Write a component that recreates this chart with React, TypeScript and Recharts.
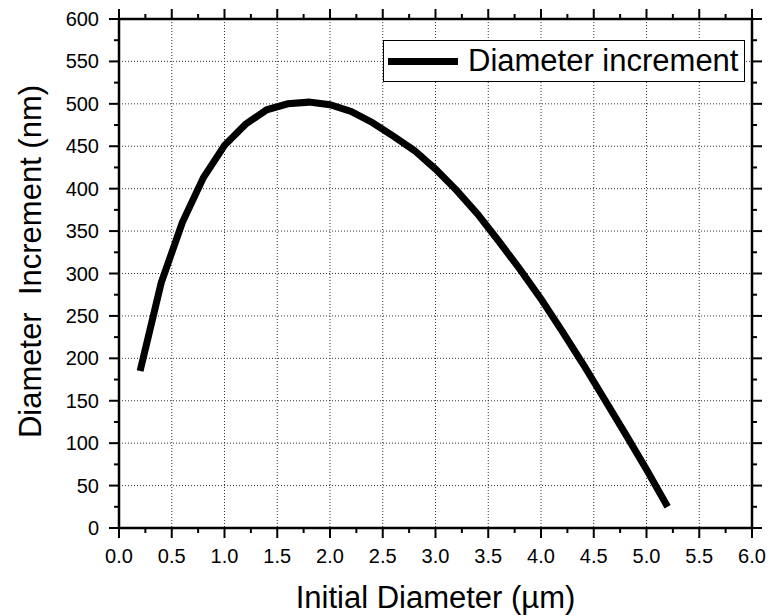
import { LineChart, Line, XAxis, YAxis, CartesianGrid, ReferenceArea } from 'recharts';

// initial diameter (µm) and the resulting diameter increment (nm)
const initialDiameter = [
  0.2, 0.4, 0.6, 0.8, 1.0, 1.2, 1.4, 1.6, 1.8, 2.0, 2.2, 2.4, 2.6,
  2.8, 3.0, 3.2, 3.4, 3.6, 3.8, 4.0, 4.2, 4.4, 4.6, 4.8, 5.0, 5.2,
];
const diameterIncrement = [
  185, 289, 360, 413, 451, 476, 493, 500, 502, 499, 491, 478, 462,
  445, 423, 398, 370, 338, 305, 270, 232, 193, 152, 111, 69, 25,
];

const xMajorTicks = [0, 0.5, 1, 1.5, 2, 2.5, 3, 3.5, 4, 4.5, 5, 5.5, 6];
const xMinorTicks = [0.25, 0.75, 1.25, 1.75, 2.25, 2.75, 3.25, 3.75, 4.25, 4.75, 5.25, 5.75];
const yMajorTicks = [0, 50, 100, 150, 200, 250, 300, 350, 400, 450, 500, 550, 600];
const yMinorTicks = [25, 75, 125, 175, 225, 275, 325, 375, 425, 475, 525, 575];

const data = initialDiameter.map((d, i) => ({ d, inc: diameterIncrement[i] }));

const WIDTH = 768;
const HEIGHT = 615;
const M = { top: 19, right: 16, left: 0, bottom: 0 };
const Y_AXIS_W = 119;
const X_AXIS_H = 87;
const PLOT_TOP = M.top;
const PLOT_RIGHT = WIDTH - M.right;

const FONT = '"Liberation Sans", Arial, Helvetica, sans-serif';

const XTick = ({ x, y, payload }: any) => {
  const major = xMajorTicks.includes(payload.value);
  const len = major ? 10 : 5;
  return (
    <g>
      <line x1={x} x2={x} y1={y} y2={y + len} stroke="#000" strokeWidth={2} />
      <line x1={x} x2={x} y1={PLOT_TOP} y2={PLOT_TOP - len} stroke="#000" strokeWidth={2} />
      {major && (
        <text x={x} y={y + 35} textAnchor="middle" fontSize={20} fontFamily={FONT} fill="#000">
          {payload.value.toFixed(1)}
        </text>
      )}
    </g>
  );
};

const YTick = ({ x, y, payload }: any) => {
  const major = yMajorTicks.includes(payload.value);
  const len = major ? 10 : 5;
  return (
    <g>
      <line x1={x} x2={x - len} y1={y} y2={y} stroke="#000" strokeWidth={2} />
      <line x1={PLOT_RIGHT} x2={PLOT_RIGHT + len} y1={y} y2={y} stroke="#000" strokeWidth={2} />
      {major && (
        <text x={x - 20} y={y + 7} textAnchor="end" fontSize={20} fontFamily={FONT} fill="#000">
          {payload.value}
        </text>
      )}
    </g>
  );
};

const XTitle = ({ viewBox }: any) => (
  <text
    x={viewBox.x + viewBox.width / 2}
    y={viewBox.y + 80}
    textAnchor="middle"
    fontSize={31}
    fontFamily={FONT}
    fill="#000"
  >
    Initial Diameter (µm)
  </text>
);

const YTitle = ({ viewBox }: any) => {
  const cx = viewBox.x + 41;
  const cy = viewBox.y + viewBox.height / 2 - 12;
  return (
    <text
      x={cx}
      y={cy}
      transform={`rotate(-90 ${cx} ${cy})`}
      textAnchor="middle"
      fontSize={31}
      fontFamily={FONT}
      fill="#000"
      style={{ whiteSpace: 'pre' }}
    >
      {'Diameter\u00a0\u00a0Increment (nm)'}
    </text>
  );
};

export default function App() {
  return (
    <div style={{ position: 'absolute', left: 0, top: 0, width: WIDTH, height: HEIGHT, background: '#fff' }}>
      <LineChart width={WIDTH} height={HEIGHT} data={data} margin={M}>
        <CartesianGrid
          stroke="#333"
          strokeWidth={1}
          strokeDasharray="1 2"
          verticalValues={xMajorTicks}
          horizontalValues={yMajorTicks}
        />
        <XAxis
          dataKey="d"
          type="number"
          domain={[0, 6]}
          ticks={[...xMajorTicks, ...xMinorTicks].sort((a, b) => a - b)}
          interval={0}
          height={X_AXIS_H}
          axisLine={false}
          tickLine={false}
          tickSize={0}
          tickMargin={0}
          tick={<XTick />}
          label={<XTitle />}
        />
        <YAxis
          type="number"
          domain={[0, 600]}
          ticks={[...yMajorTicks, ...yMinorTicks].sort((a, b) => a - b)}
          interval={0}
          width={Y_AXIS_W}
          axisLine={false}
          tickLine={false}
          tickSize={0}
          tickMargin={0}
          tick={<YTick />}
          label={<YTitle />}
        />
        <ReferenceArea x1={0} x2={6} y1={0} y2={600} fill="none" stroke="#000" strokeWidth={2.5} />
        <Line
          type="linear"
          dataKey="inc"
          stroke="#000"
          strokeWidth={7}
          dot={false}
          activeDot={false}
          isAnimationActive={false}
        />
      </LineChart>
      <div
        style={{
          position: 'absolute',
          left: 383,
          top: 40,
          width: 360,
          height: 40,
          border: '1px solid #000',
          background: '#fff',
          display: 'flex',
          alignItems: 'center',
          fontFamily: FONT,
          fontSize: 31,
          color: '#000',
          boxSizing: 'content-box',
        }}
      >
        <div style={{ width: 70, height: 7, background: '#000', marginLeft: 4, marginRight: 10 }} />
        <span style={{ lineHeight: '40px' }}>Diameter increment</span>
      </div>
    </div>
  );
}
